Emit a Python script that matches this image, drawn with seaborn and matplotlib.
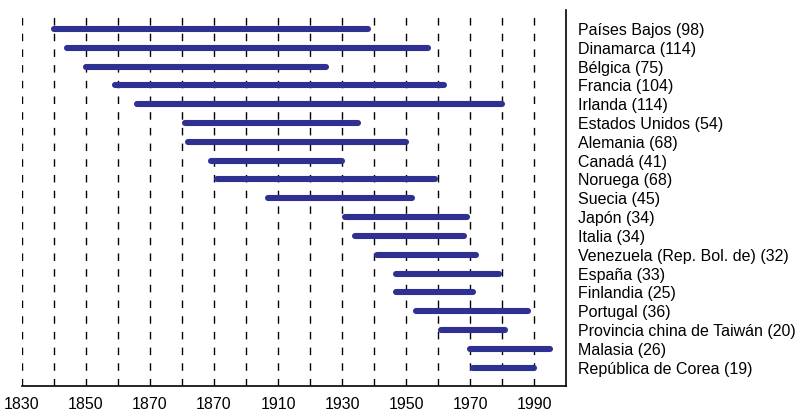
import matplotlib.pyplot as plt
import pandas as pd
import seaborn as sns

# countries with their period length (years) and start/end of the period
countries = ["Países Bajos", "Dinamarca", "Bélgica", "Francia", "Irlanda",
             "Estados Unidos", "Alemania", "Canadá", "Noruega", "Suecia",
             "Japón", "Italia", "Venezuela (Rep. Bol. de)", "España", "Finlandia",
             "Portugal", "Provincia china de Taiwán", "Malasia", "República de Corea"]
periods = [98, 114, 75, 104, 114, 54, 68, 41, 68, 45, 34, 34, 32, 33, 25, 36, 20, 26, 19]
start_year = [1840, 1844, 1850, 1859, 1866, 1881, 1882, 1889, 1891, 1907,
              1931, 1934, 1941, 1947, 1947, 1953, 1961, 1970, 1971]
end_year = [1938, 1957, 1925, 1962, 1980, 1935, 1950, 1930, 1959, 1952,
            1969, 1968, 1972, 1979, 1971, 1988, 1981, 1995, 1990]

tick_years = [1830, 1850, 1870, 1890, 1910, 1930, 1950, 1970, 1990]
tick_labels = ["1830", "1850", "1870", "1870", "1910", "1930", "1950", "1970", "1990"]

sns.set_style("white")
plt.rcParams['font.family'] = ['Liberation Sans', 'DejaVu Sans']

rows = []
for i, name in enumerate(countries):
    rows.append({"country": name, "row": i, "year": start_year[i]})
    rows.append({"country": name, "row": i, "year": end_year[i]})
df = pd.DataFrame(rows)

fig = plt.figure(figsize=(8.07, 4.15), dpi=100)
ax = fig.add_axes([0.0273, 0.070, 0.6741, 0.9047])

# dashed vertical guides every decade
for yr in range(1830, 2000, 10):
    ax.axvline(yr, color="black", lw=1.0, ls=(0, (5.4, 5.9)), zorder=1)

sns.lineplot(data=df, x="year", y="row", units="country", estimator=None,
             sort=False, color="#2e3192", lw=4.4, solid_capstyle="round",
             ax=ax, zorder=3)

ax.set_xlim(1830, 2000)
ax.set_ylim(18.97, -0.98)

xt = list(range(1830, 2001, 10))
ax.set_xticks(xt)
ax.set_xticklabels([tick_labels[tick_years.index(t)] if t in tick_years else "" for t in xt])
ax.tick_params(axis="x", direction="inout", length=10, width=1.2, pad=3,
               labelsize=11.5, color="black", labelcolor="black")

ax.yaxis.tick_right()
ax.set_yticks(range(len(countries)))
ax.set_yticklabels([f"{c} ({p})" for c, p in zip(countries, periods)])
ax.tick_params(axis="y", length=0, pad=8.6, labelsize=11.5, labelcolor="black")

ax.set_xlabel("")
ax.set_ylabel("")
for side in ["left", "top"]:
    ax.spines[side].set_visible(False)
for side in ["bottom", "right"]:
    ax.spines[side].set_color("black")
    ax.spines[side].set_linewidth(1.2)

fig.savefig("out.png", dpi=100)
